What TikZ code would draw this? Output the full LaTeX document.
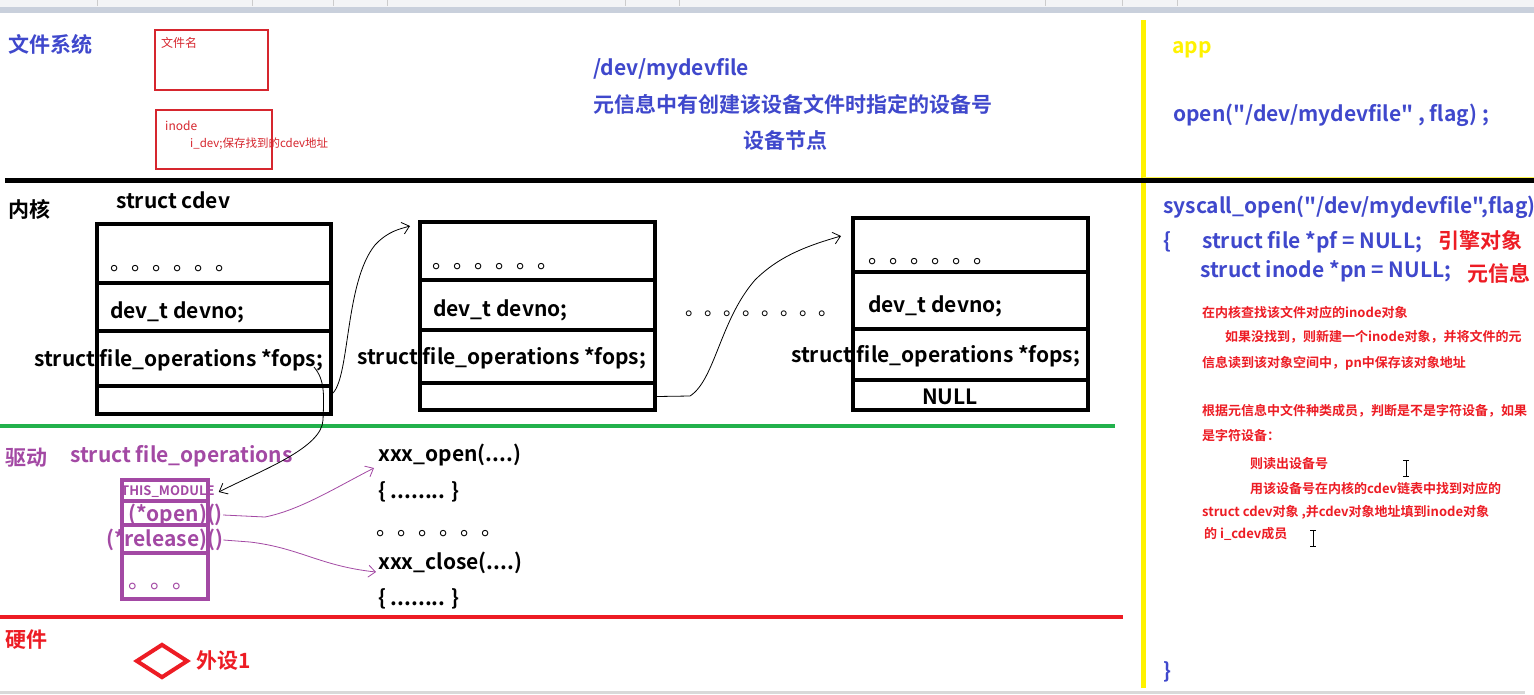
\documentclass[tikz,border=0pt]{standalone}
\usepackage{fontspec}
\setmainfont{Noto Sans CJK SC}[BoldFont={Noto Sans CJK SC Bold},Ligatures=TeXOff]
\usetikzlibrary{arrows.meta,shapes.geometric}
\definecolor{tblue}{RGB}{63,72,204}
\definecolor{tred}{RGB}{237,28,36}
\definecolor{tpurple}{RGB}{163,73,164}
\definecolor{tgreen}{RGB}{34,177,76}
\definecolor{tyellow}{RGB}{255,242,0}
\definecolor{boxred}{RGB}{214,38,46}
\definecolor{tbar}{RGB}{201,208,220}
\definecolor{ttool}{RGB}{243,244,246}
\tikzset{
  lbl/.style={anchor=west,inner sep=0pt,font=\bfseries\fontsize{21}{24}\selectfont},
  small/.style={anchor=west,inner sep=0pt,font=\fontsize{12}{14}\selectfont,text=boxred},
  note/.style={anchor=west,inner sep=0pt,font=\bfseries\fontsize{13}{15}\selectfont,text=tred},
  dots/.style={anchor=base west,inner sep=0pt,font=\fontsize{21}{24}\selectfont},
  cell/.style={draw,line width=4pt,minimum width=234pt,inner sep=0pt},
  pcell/.style={draw=tpurple,line width=4pt,minimum width=86pt,inner sep=0pt},
  hand/.style={line width=0.8pt,-{Straight Barb[length=7pt,width=12pt]}},
}
\begin{document}
\begin{tikzpicture}[x=1pt,y=-1pt]
\clip (0,0) rectangle (1534,694);
\fill[white] (0,0) rectangle (1534,694);
% window chrome
\fill[ttool] (0,0) rectangle (1534,7);
\fill[tbar] (0,7) rectangle (1534,13);
\foreach \sx in {97,252,333,387,625,679,1045,1122,1177}{\draw[gray!40] (\sx,0) -- (\sx,6);}
\fill[gray!30] (0,691) rectangle (1525,694);

% file system layer
\node[lbl,text=tblue] (fs) at (8,44) {文件系统};
\node[draw=boxred,line width=2pt,minimum width=113pt,minimum height=60pt,inner sep=0pt] (fnbox) at (211.5,60) {};
\node[small] (fn) at (161,43) {文件名};
\node[draw=boxred,line width=2pt,minimum width=116pt,minimum height=59pt,inner sep=0pt] (inbox) at (214,139.5) {};
\node[small] (ino) at (165,126) {inode};
\node[small,font=\fontsize{11.5}{14}\selectfont] (idev) at (190,144) {i\_dev;保存找到的cdev地址};
\node[lbl,text=tblue] (path) at (593,69) {/dev/mydevfile};
\node[lbl,text=tblue] (meta) at (593,104) {元信息中有创建该设备文件时指定的设备号};
\node[lbl,text=tblue,anchor=center] (devnode) at (785,140) {设备节点};

% separators
\draw[tyellow,line width=5pt] (1143,20) -- (1143,688);
\draw[tyellow!70,line width=1pt] (1143,177) -- (1534,177);
\draw[black,line width=5pt] (5,180) -- (1534,180);
\draw[tgreen,line width=4pt] (0,426) -- (1115,426);
\draw[tred,line width=4pt] (0,617) -- (1123,617);

% app panel
\node[lbl,text=tyellow] (app) at (1172,50) {app};
\node[lbl,text=tblue] (open) at (1173,115) {open("/dev/mydevfile" , flag) ;};
\node[lbl,text=tblue] (sys) at (1163,207) {syscall\_open("/dev/mydevfile",flag)};
\node[lbl,text=tblue] (lb) at (1163,242) {\{};
\node[lbl,text=tblue] (pf) at (1202,242) {struct file *pf = NULL;};
\node[lbl,text=tred,font=\bfseries\fontsize{21}{24}\selectfont] (eng) at (1438,240) {引擎对象};
\node[lbl,text=tblue] (pn) at (1200,271) {struct inode *pn = NULL;};
\node[lbl,text=tred,font=\bfseries\fontsize{21}{24}\selectfont] (yxx) at (1467,273) {元信息};
\node[note] (n1) at (1202,313) {在内核查找该文件对应的inode对象};
\node[note] (n2) at (1225,337) {如果没找到，则新建一个inode对象，并将文件的元};
\node[note] (n3) at (1202,363) {信息读到该对象空间中，pn中保存该对象地址};
\node[note] (n4) at (1202,411) {根据元信息中文件种类成员，判断是不是字符设备，如果};
\node[note] (n5) at (1202,436) {是字符设备：};
\node[note] (n6) at (1250,464) {则读出设备号};
\node[note] (n7) at (1250,489) {用该设备号在内核的cdev链表中找到对应的};
\node[note] (n8) at (1202,512) {struct cdev对象 ,并cdev对象地址填到inode对象};
\node[note] (n9) at (1204,534) {的 i\_cdev成员};
\node[lbl,text=tblue] (rb) at (1163,672) {\}};
% text cursors
\foreach \cx/\cy in {1406/468,1313/538}{
  \draw[black,line width=0.8pt] (\cx,\cy-8) -- (\cx,\cy+8);
  \draw[black,line width=0.8pt] (\cx-3,\cy-8) -- (\cx+3,\cy-8);
  \draw[black,line width=0.8pt] (\cx-3,\cy+8) -- (\cx+3,\cy+8);
}

% kernel layer
\node[lbl] (kern) at (8,209) {内核};
\node[lbl] (scdev) at (116,200) {struct cdev};
% box 1
\node[cell,minimum height=59pt] (a1) at (214,253.5) {};
\node[cell,minimum height=48pt] (a2) at (214,307) {};
\node[cell,minimum height=55pt] (a3) at (214,358.5) {};
\node[cell,minimum height=28pt] (a4) at (214,400) {};
% box 2
\node[cell,minimum width=235pt,minimum height=58pt] (b1) at (537.5,251) {};
\node[cell,minimum width=235pt,minimum height=50pt] (b2) at (537.5,305) {};
\node[cell,minimum width=235pt,minimum height=53pt] (b3) at (537.5,356.5) {};
\node[cell,minimum width=235pt,minimum height=27pt] (b4) at (537.5,396.5) {};
% box 3
\node[cell,minimum width=235pt,minimum height=54pt] (c1) at (970.5,245) {};
\node[cell,minimum width=235pt,minimum height=57pt] (c2) at (970.5,300.5) {};
\node[cell,minimum width=235pt,minimum height=51pt] (c3) at (970.5,354.5) {};
\node[cell,minimum width=235pt,minimum height=30pt] (c4) at (970.5,395) {};

\node[dots] (d1) at (110,270) {。。。。。。};
\node[dots] (d2) at (432,268) {。。。。。。};
\node[dots] (d3) at (868,263) {。。。。。。};
\node[dots,font=\fontsize{19}{24}\selectfont] (dmid) at (685,315) {。。。。。。。。};
\node[lbl] (dv1) at (110,312) {dev\_t devno;};
\node[lbl] (dv2) at (433,310) {dev\_t devno;};
\node[lbl] (dv3) at (868,306) {dev\_t devno;};
\node[lbl] (fo1) at (34,360) {struct file\_operations *fops;};
\node[lbl] (fo2) at (357,358) {struct file\_operations *fops;};
\node[lbl] (fo3) at (791,356) {struct file\_operations *fops;};
\node[lbl,anchor=center] (null) at (950,397) {NULL};

% driver layer
\node[lbl,text=tpurple] (drv) at (5,458) {驱动};
\node[lbl,text=tpurple] (sfo) at (70,456) {struct file\_operations};
\node[pcell,minimum height=21pt] (p1) at (165,490.5) {};
\node[pcell,minimum height=24pt] (p2) at (165,513) {};
\node[pcell,minimum height=28pt] (p3) at (165,539) {};
\node[pcell,minimum height=46pt] (p4) at (165,576) {};
\node[lbl,text=tpurple,font=\bfseries\fontsize{13}{15}\selectfont] (tm) at (121,492) {THIS\_MODULE};
\node[lbl,text=tpurple] (opn) at (128,515) {(*open)()};
\node[lbl,text=tpurple] (rel) at (106,540) {(*release)()};
\node[dots,text=tpurple,font=\fontsize{22}{24}\selectfont] (pd) at (128,588) {。。。};
\node[lbl] (xo) at (378,455) {xxx\_open(....)};
\node[lbl] (xob) at (378,492) {\{ ........ \}};
\node[dots] (xd) at (376,535) {。。。。。。};
\node[lbl] (xc) at (378,563) {xxx\_close(....)};
\node[lbl] (xcb) at (378,599) {\{ ........ \}};

% hardware layer
\node[lbl,text=tred] (hw) at (5,640) {硬件};
\node[diamond,draw=tred,line width=4pt,minimum width=52pt,minimum height=34pt,inner sep=0pt] (dev1) at (162,661) {};
\node[lbl,text=tred] (wai) at (196,661) {外设1};

% connectors
\coordinate (f1) at (314,367);
\draw[hand] (f1) .. controls (325,380) and (324,395) .. (323,420)
  .. controls (322,448) and (262,470) .. ([xshift=4pt]tm.east);
\draw[hand] ([yshift=7pt]a4.east) .. controls (350,375) and (345,282) .. (375,245)
  .. controls (388,231) and (400,229) .. ([xshift=-8pt,yshift=-6pt]b1.north west);
\draw[hand] (b4.east) -- (690,396) .. controls (715,380) and (720,320) .. (755,280)
  .. controls (780,255) and (810,245) .. ([xshift=-10pt,yshift=-20pt]c1.north west);
\draw[hand,tpurple] (opn.east) -- (265,517) .. controls (300,510) and (335,488) .. ([xshift=-4pt,yshift=-13pt]xo.west);
\draw[hand,tpurple] (rel.east) -- (250,542) .. controls (300,548) and (320,566) .. ([xshift=-2pt,yshift=-9pt]xc.west);
\end{tikzpicture}
\end{document}
